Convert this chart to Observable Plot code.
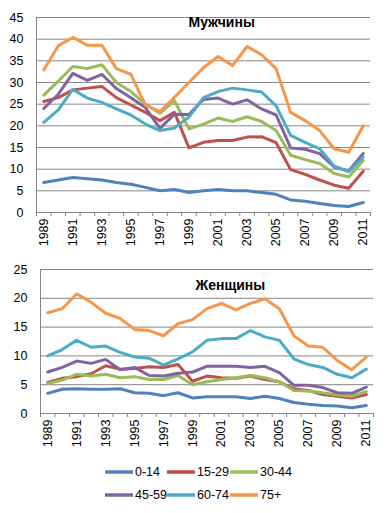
<!DOCTYPE html>
<html>
<head>
<meta charset="utf-8">
<script src="https://cdn.jsdelivr.net/npm/d3@7"></script>
<script src="https://cdn.jsdelivr.net/npm/@observablehq/plot@0.6"></script>
<style>
  body { margin: 0; background: #fff; font-family: "Liberation Sans", Arial, sans-serif; }
  #wrap { width: 388px; }
  .legend { position: relative; height: 62px; font-size: 12.5px; color: #000; }
  .item { position: absolute; display: flex; align-items: center; }
  .item svg { margin-right: 2px; }
</style>
</head>
<body>
<div id="wrap">
  <div id="men"></div>
  <div id="women"></div>
  <div class="legend" id="legend"></div>
</div>
<script>
const years = [1989,1990,1991,1992,1993,1994,1995,1996,1997,1998,1999,2000,2001,2002,2003,2004,2005,2006,2007,2008,2009,2010,2011];
const groups = ["0-14","15-29","30-44","45-59","60-74","75+"];
const colors = ["#4F81BD","#C0504D","#9BBB59","#8064A2","#4BACC6","#F79646"];

// Men
const men_0_14  = [6.9,7.5,8.1,7.8,7.5,6.9,6.5,5.8,5.0,5.3,4.6,5.0,5.3,5.0,5.0,4.6,4.2,2.9,2.6,2.1,1.6,1.4,2.3];
const men_15_29 = [25.6,26.5,28.3,28.7,29.1,26.5,24.8,23.1,21.2,23.1,14.9,16.2,16.6,16.6,17.4,17.5,16.1,9.9,8.8,7.5,6.3,5.6,9.5];
const men_30_44 = [27.1,30.3,33.7,33.2,34.1,30.0,27.9,25.0,22.9,25.8,19.3,20.4,21.8,21.0,22.1,21.0,18.9,13.2,12.2,11.3,9.0,8.2,12.0];
const men_45_59 = [24.0,27.3,32.1,30.5,31.9,28.6,26.5,24.2,19.4,22.7,22.6,26.1,26.4,25.0,26.0,23.9,22.5,14.9,14.6,13.6,10.5,9.6,13.6];
const men_60_74 = [20.8,23.7,28.4,26.4,25.4,23.9,22.5,20.4,18.9,19.5,22.0,26.5,27.9,28.7,28.3,27.8,24.6,17.8,16.2,14.7,10.7,9.4,12.8];
const men_75    = [32.9,38.5,40.4,38.6,38.6,33.2,31.9,24.8,23.3,26.6,30.0,33.4,36.0,33.9,38.3,36.4,33.2,23.1,21.2,18.9,14.7,13.9,20.0];

// Women
const women_0_14  = [3.5,4.2,4.3,4.2,4.2,4.3,3.6,3.5,3.1,3.6,2.7,2.9,2.9,2.9,2.6,3.0,2.6,1.9,1.6,1.4,1.3,1.0,1.4];
const women_15_29 = [5.4,6.1,6.4,6.9,8.3,7.7,7.8,8.1,8.0,8.5,5.6,6.5,6.2,6.1,6.5,5.9,5.5,4.3,4.0,3.3,3.0,2.7,3.3];
const women_30_44 = [5.2,5.8,6.8,6.5,6.8,6.2,6.4,5.9,5.9,6.6,5.0,5.5,5.9,6.2,6.6,6.2,5.5,4.0,3.9,3.6,3.2,3.0,3.8];
const women_45_59 = [7.2,8.0,9.1,8.7,9.4,7.6,8.0,6.6,6.5,7.0,7.2,8.2,8.2,8.2,8.0,8.2,7.1,4.9,4.9,4.5,3.6,3.5,4.6];
const women_60_74 = [10.0,11.1,12.7,11.5,11.7,10.6,9.8,9.6,8.4,9.5,10.7,12.7,13.0,13.0,14.4,13.3,12.7,9.5,8.5,8.0,6.8,6.2,7.7];
const women_75    = [17.5,18.2,20.8,19.3,17.4,16.5,14.6,14.4,13.5,15.6,16.3,18.2,19.1,18.0,19.1,19.9,18.2,13.5,11.7,11.5,9.2,7.6,9.8];

const menTicks = [0,5,10,15,20,25,30,35,40,45];
const womenTicks = [0,5,10,15,20,25];
const menTitle = "Мужчины";
const womenTitle = "Женщины";

function toRows(seriesList) {
  const rows = [];
  seriesList.forEach((vals, i) => {
    vals.forEach((v, j) => rows.push({year: years[j], value: v, group: groups[i]}));
  });
  return rows;
}

const oddYears = years.filter((y, i) => i % 2 === 0);
const x0 = years[0] - 0.5, x1 = years[years.length - 1] + 0.5;
const bounds = years.map(y => y - 0.5).concat([x1]);
const grey = "#868686";

function panel({rows, ticks, title, height, marginTop, marginBottom, marginLeft, marginRight, titleDx, titleDy}) {
  return Plot.plot({
    width: 388,
    height,
    marginTop, marginBottom, marginLeft, marginRight,
    style: {fontFamily: "Liberation Sans, Arial, sans-serif", fontSize: "12.5px", color: "#000", background: "#fff"},
    x: {domain: [x0, x1], axis: null, label: null},
    y: {domain: [ticks[0], ticks[ticks.length - 1]], axis: null, label: null},
    color: {domain: groups, range: colors},
    marks: [
      Plot.gridY(ticks.slice(1), {stroke: grey, strokeOpacity: 1, strokeWidth: 1}),
      Plot.axisY(ticks, {label: null, tickSize: 0, tickPadding: 13, tickFormat: d => String(d), fill: "#000", fontSize: 12.5}),
      Plot.axisX(bounds, {label: null, tickSize: 4, stroke: grey, tickFormat: () => ""}),
      Plot.axisX(oddYears, {label: null, tickSize: 0, tickPadding: 6, tickRotate: -90, tickFormat: d => String(d), fill: "#000", fontSize: 12.5}),
      Plot.ruleY([ticks[0]], {stroke: grey, strokeWidth: 1}),
      Plot.ruleX([x0], {stroke: grey, strokeWidth: 1}),
      Plot.line(rows, {x: "year", y: "value", z: "group", stroke: "group", strokeWidth: 3, strokeLinejoin: "round", strokeLinecap: "round"}),
      Plot.text([title], {frameAnchor: "top-left", text: d => d, dx: titleDx, dy: titleDy, fontWeight: "bold", fontSize: 14, fill: "#000"})
    ]
  });
}

document.getElementById("men").append(panel({
  rows: toRows([men_0_14, men_15_29, men_30_44, men_45_59, men_60_74, men_75]),
  ticks: menTicks, title: menTitle,
  height: 248, marginTop: 17, marginBottom: 36, marginLeft: 36, marginRight: 18,
  titleDx: 152, titleDy: 0
}));

document.getElementById("women").append(panel({
  rows: toRows([women_0_14, women_15_29, women_30_44, women_45_59, women_60_74, women_75]),
  ticks: womenTicks, title: womenTitle,
  height: 200, marginTop: 21, marginBottom: 35, marginLeft: 40, marginRight: 15,
  titleDx: 155, titleDy: 11
}));

// Legend
const legend = document.getElementById("legend");
const cols = [105, 167, 230];
groups.forEach((g, i) => {
  const item = document.createElement("div");
  item.className = "item";
  item.style.left = cols[i % 3] + "px";
  item.style.top = (i < 3 ? 17 : 40) + "px";
  item.innerHTML = `<svg width="28" height="6"><line x1="1" y1="3" x2="27" y2="3" stroke="${colors[i]}" stroke-width="3.5" stroke-linecap="round"/></svg><span>${g}</span>`;
  legend.append(item);
});
</script>
</body>
</html>
